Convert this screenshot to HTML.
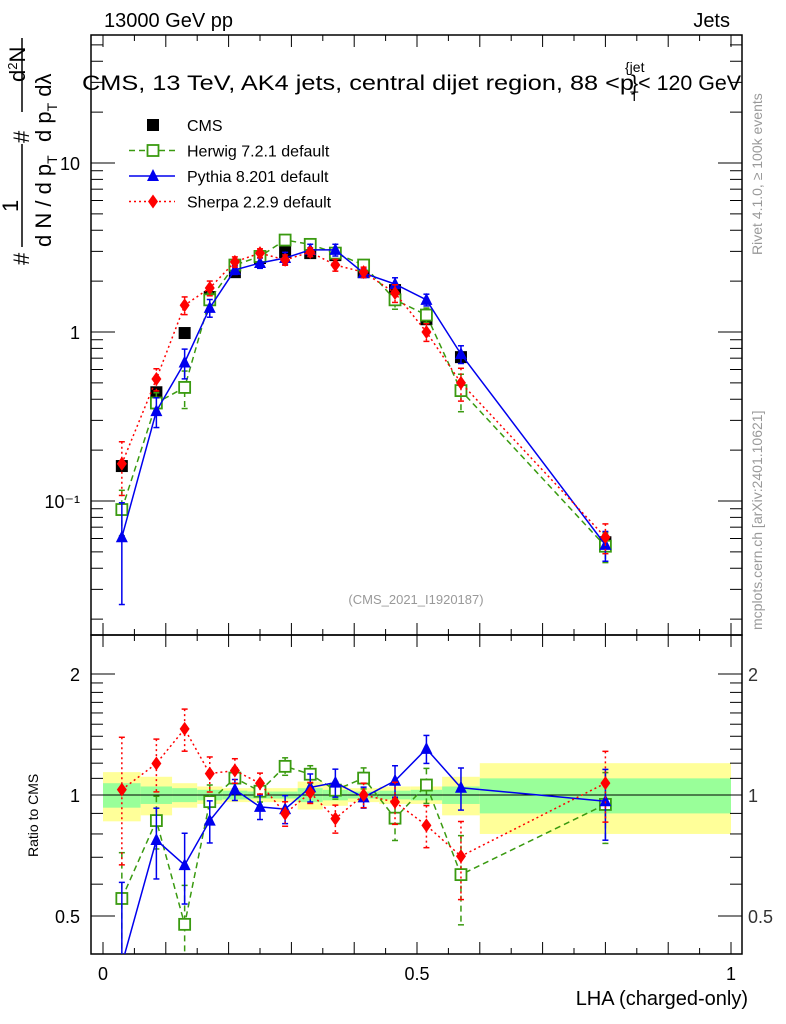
<!DOCTYPE html>
<html><head><meta charset="utf-8"><style>
html,body{margin:0;padding:0;background:#fff;width:786px;height:1024px;overflow:hidden;}
svg{display:block;font-family:"Liberation Sans",sans-serif;}
</style></head><body>
<svg id="chart" width="786" height="1024" viewBox="0 0 786 1024">
<defs><clipPath id="cm"><rect x="91" y="35" width="651" height="600"/></clipPath><clipPath id="cr"><rect x="91" y="635" width="651" height="319"/></clipPath></defs>
<g id="bands"></g>
<g id="axes"></g>
<g id="marks"></g>
<text x="104" y="27" font-size="20">13000 GeV pp</text>
<text x="730" y="27" font-size="20" text-anchor="end">Jets</text>
<g>
<text x="82" y="90" font-size="21" textLength="552" lengthAdjust="spacingAndGlyphs">CMS, 13 TeV, AK4 jets, central dijet region, 88 &lt;p</text>
<text x="625" y="72" font-size="14">{jet</text>
<text x="630" y="101" font-size="14">T</text>
<text x="631" y="90" font-size="21" textLength="110" lengthAdjust="spacingAndGlyphs">}&lt; 120 GeV</text>
</g>
<text x="416" y="604" font-size="13" fill="#999" text-anchor="middle">(CMS_2021_I1920187)</text>
<text transform="translate(762,255) rotate(-90)" font-size="14" fill="#999">Rivet 4.1.0, ≥ 100k events</text>
<text transform="translate(762,630) rotate(-90)" font-size="14" fill="#999">mcplots.cern.ch [arXiv:2401.10621]</text>
<text x="748" y="1005" font-size="20" text-anchor="end">LHA (charged-only)</text>
<text transform="translate(38,857) rotate(-90)" font-size="14">Ratio to CMS</text>
<g font-size="22">
<line x1="22" y1="38" x2="22" y2="112" stroke="#000" stroke-width="1.5"/>
<line x1="22" y1="144" x2="22" y2="247" stroke="#000" stroke-width="1.5"/>
<text transform="translate(29,265) rotate(-90)">#</text>
<text transform="translate(18,212) rotate(-90)">1</text>
<text transform="translate(51,247) rotate(-90)">d N / d p<tspan font-size="14" dy="6">T</tspan></text>
<text transform="translate(29,143) rotate(-90)">#</text>
<text transform="translate(25,82) rotate(-90)">d<tspan font-size="13" dy="-8">2</tspan><tspan dy="8">N</tspan></text>
<text transform="translate(51,142) rotate(-90)">d p<tspan font-size="14" dy="6">T</tspan><tspan dy="-6"> d</tspan>λ</text>
</g>
<g id="legend"></g>
</svg>
<script>
const lha = [0.03,0.085,0.13,0.17,0.21,0.25,0.29,0.33,0.37,0.415,0.465,0.515,0.57,0.80];
const binEdges = [0,0.06,0.11,0.15,0.19,0.23,0.27,0.31,0.35,0.39,0.44,0.49,0.54,0.6,1.0];
const cms = [0.161,0.44,0.986,1.61,2.26,2.74,2.97,2.93,2.85,2.26,1.77,1.19,0.71,0.057];
const cmsTotErr = [0.14,0.11,0.07,0.05,0.04,0.04,0.04,0.08,0.06,0.04,0.05,0.05,0.11,0.2];
const cmsStatErr = [0.07,0.05,0.04,0.03,0.025,0.02,0.02,0.04,0.03,0.02,0.025,0.03,0.05,0.1];
const herwig = [0.089,0.38,0.47,1.55,2.49,2.8,3.5,3.3,2.93,2.49,1.55,1.26,0.45,0.054];
const herwigErr = [0.3,0.15,0.25,0.1,0.06,0.06,0.05,0.05,0.05,0.06,0.12,0.1,0.25,0.2];
const pythia = [0.061,0.34,0.66,1.39,2.33,2.56,2.74,3.06,3.06,2.23,1.92,1.55,0.74,0.055];
const pythiaErr = [0.6,0.2,0.2,0.12,0.06,0.07,0.08,0.08,0.08,0.06,0.09,0.08,0.12,0.2];
const sherpa = [0.166,0.527,1.44,1.82,2.6,2.93,2.67,2.97,2.49,2.26,1.7,1.0,0.5,0.061];
const sherpaErr = [0.35,0.15,0.12,0.1,0.07,0.06,0.07,0.06,0.08,0.07,0.12,0.12,0.22,0.2];
const mainTicks = [0.1,1,10];
const mainTickLabels = ["10⁻¹","1","10"];
const ratioTicks = [0.5,1,2];
const ratioTickLabels = ["0.5","1","2"];
const xTicks = [0,0.5,1];
const xTickLabels = ["0","0.5","1"];

const NS="http://www.w3.org/2000/svg";
const L=91,R=742,T=35,M=635,B=954;
const X=v=>103+628*v;
const YM=v=>332-169*Math.log10(v);
const YR=v=>795-121*Math.log2(v);
function mk(parent,tag,attrs){const e=document.createElementNS(NS,tag);for(const k in attrs)e.setAttribute(k,attrs[k]);parent.appendChild(e);return e;}
const axes=document.getElementById('axes'),bands=document.getElementById('bands'),marks=document.getElementById('marks'),legend=document.getElementById('legend');

for(let i=0;i<cms.length;i++){
  const x1=X(binEdges[i]),x2=X(binEdges[i+1]);
  const y=mk(bands,'rect',{x:x1,y:YR(1+cmsTotErr[i]),width:x2-x1,height:YR(1-cmsTotErr[i])-YR(1+cmsTotErr[i]),fill:'#ffff99'});
  
  
  const g=mk(bands,'rect',{x:x1,y:YR(1+cmsStatErr[i]),width:x2-x1,height:YR(1-cmsStatErr[i])-YR(1+cmsStatErr[i]),fill:'#99ff99'});
  
  
}
for(const [t,b] of [[T,M],[M,B]]){
  const f=mk(axes,'rect',{x:L,y:t,width:R-L,height:b-t,fill:'none',stroke:'#000','stroke-width':1.5});
  
  
}
const one=mk(axes,'line',{x1:L,x2:R,y1:YR(1),y2:YR(1),stroke:'#000','stroke-width':1});


for(let k=0;k<=20;k++){
  const v=k*0.05,x=X(v),len=(k%2==0)?12:6;
  for(const [yb,dir] of [[M,-1],[T,1],[B,-1],[M,1]]){
    mk(axes,'line',{x1:x,x2:x,y1:yb,y2:yb+dir*len,stroke:'#000','stroke-width':1});
  }
}
xTicks.forEach((v,i)=>{const t=mk(axes,'text',{x:X(v),y:980,'font-size':18,'text-anchor':'middle'});t.textContent=xTickLabels[i];

});
for(let d=-2;d<=1;d++){for(let m=1;m<=9;m++){const v=m*Math.pow(10,d),y=YM(v);if(y<T||y>M)continue;const len=m==1?24:12;
  mk(axes,'line',{x1:L,x2:L+len,y1:y,y2:y,stroke:'#000'});mk(axes,'line',{x1:R,x2:R-len,y1:y,y2:y,stroke:'#000'});}}
mainTicks.forEach((v,i)=>{const t=mk(axes,'text',{x:80,y:YM(v)+7,'font-size':18,'text-anchor':'end'});t.textContent=mainTickLabels[i];

});
for(const v of [0.4,0.5,0.6,0.7,0.8,0.9,1,1.1,1.2,1.3,1.4,1.5,1.6,1.7,1.8,1.9,2,2.5]){const y=YR(v);if(y<M||y>B)continue;const len=(v==0.5||v==1||v==2)?24:12;
  mk(axes,'line',{x1:L,x2:L+len,y1:y,y2:y,stroke:'#000'});mk(axes,'line',{x1:R,x2:R-len,y1:y,y2:y,stroke:'#000'});}
ratioTicks.forEach((v,i)=>{for(const [x,a] of [[80,'end'],[748,'start']]){const t=mk(axes,'text',{x:x,y:YR(v)+7,'font-size':18,'text-anchor':a,fill:a=='end'?'#000':'#333'});t.textContent=ratioTickLabels[i];

}});

const series=[
 {name:'herwig',vals:herwig,err:herwigErr,color:'#3a9a10',dash:'6,4',marker:'osq'},
 {name:'pythia',vals:pythia,err:pythiaErr,color:'#0000ee',dash:'',marker:'tri'},
 {name:'sherpa',vals:sherpa,err:sherpaErr,color:'#ff0000',dash:'2,3',marker:'dia'}];
function marker(g,type,x,y,c){
  if(type=='osq')return mk(g,'rect',{x:x-5.5,y:y-5.5,width:11,height:11,fill:'#fff',stroke:c,'stroke-width':1.8});
  if(type=='sq')return mk(g,'rect',{x:x-6,y:y-6,width:12,height:12,fill:c});
  if(type=='tri')return mk(g,'polygon',{points:`${x},${y-7} ${x-6},${y+5} ${x+6},${y+5}`,fill:c});
  return mk(g,'polygon',{points:`${x},${y-7} ${x-5},${y} ${x},${y+7} ${x+5},${y}`,fill:c});
}
function drawSeries(s,ratio){
  const g=mk(marks,'g',{'clip-path':ratio?'url(#cr)':'url(#cm)'});
  
  
  const Y=ratio?YR:YM;
  const vals=s.vals.map((v,i)=>ratio?v/cms[i]:v);
  const pts=vals.map((v,i)=>X(lha[i])+','+Y(v)).join(' ');
  mk(g,'polyline',{points:pts,fill:'none',stroke:s.color,'stroke-width':1.5,'stroke-dasharray':s.dash});
  vals.forEach((v,i)=>{const x=X(lha[i]);const y1=Y(v*(1+s.err[i])),y2=Y(Math.max(v*(1-s.err[i]),1e-3));
    mk(g,'line',{x1:x,x2:x,y1:y1,y2:y2,stroke:s.color,'stroke-width':1.5,'stroke-dasharray':s.dash});
    mk(g,'line',{x1:x-3,x2:x+3,y1:y1,y2:y1,stroke:s.color,'stroke-width':1.5});
    mk(g,'line',{x1:x-3,x2:x+3,y1:y2,y2:y2,stroke:s.color,'stroke-width':1.5});
    const m=marker(g,s.marker,x,Y(v),s.color);
    
    
  });
}
const cg=mk(marks,'g',{'clip-path':'url(#cm)'});


cms.forEach((v,i)=>{const m=marker(cg,'sq',X(lha[i]),YM(v),'#000');

});
series.forEach(s=>drawSeries(s,false));
series.forEach(s=>drawSeries(s,true));

const legItems=[['CMS','#000','','sq'],['Herwig 7.2.1 default','#3a9a10','6,4','osq'],['Pythia 8.201 default','#0000ee','','tri'],['Sherpa 2.2.9 default','#ff0000','2,3','dia']];
legItems.forEach((it,i)=>{const y=125+25.5*i;
  const g=mk(legend,'g',{});
  
  
  if(i>0)mk(g,'line',{x1:129,x2:175,y1:y,y2:y,stroke:it[1],'stroke-width':1.5,'stroke-dasharray':it[2]});
  marker(g,it[3],153,y,it[1]);
  const t=mk(g,'text',{x:187,y:y+6,'font-size':16});t.textContent=it[0];
});
</script>
</body></html>
